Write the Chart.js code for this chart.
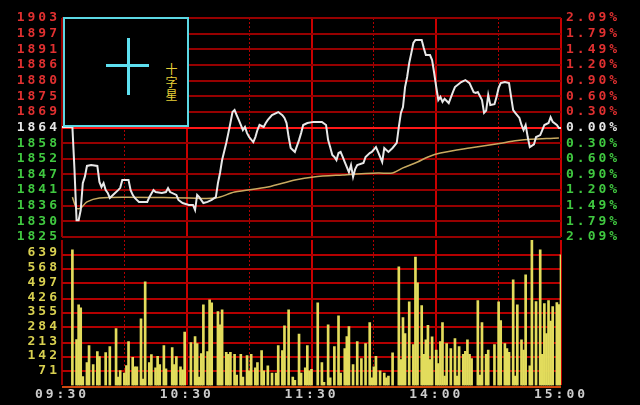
<!DOCTYPE html>
<html>
<head>
<meta charset="utf-8">
<script src="https://cdn.jsdelivr.net/npm/chart.js@4.4.1/dist/chart.umd.min.js"></script>
<style>
    html, body { margin: 0; padding: 0; background: #000; }
    #wrap { position: relative; width: 640px; height: 405px; background: #000; overflow: hidden; }
    #priceChart { position: absolute; left: 0; top: 0; }
    #volChart { position: absolute; left: 0; top: 240px; }
    #doji { position: absolute; left: 63px; top: 17px; width: 122px; height: 106px; border: 2px solid #5cd8e4; background: #000; }
    #doji .v { position: absolute; left: 62px; top: 19px; width: 3px; height: 57px; background: #5ee0f0; }
    #doji .h { position: absolute; left: 41px; top: 45px; width: 43px; height: 3px; background: #5ee0f0; }
    #doji .t { position: absolute; left: 98px; top: 44px; writing-mode: vertical-rl; font: 12px "Noto Sans CJK SC"; letter-spacing: 1px; color: #e8d038; }
</style>
</head>
<body>
<div id="wrap">
    <canvas id="priceChart" width="640" height="245"></canvas>
    <canvas id="volChart" width="640" height="165"></canvas>
    <div id="doji"><div class="v"></div><div class="h"></div><div class="t">十字星</div></div>
</div>
<script>
// ======================================
// Data
// ======================================

const timeTicks = [0, 60, 120, 180, 240];
const timeLabels = ["09:30", "10:30", "11:30", "14:00", "15:00"];
const halfHourTicks = [30, 90, 150, 210];

const priceMin = 1825;
const priceMax = 1903;
const priceLabels = ["1903", "1897", "1891", "1886", "1880", "1875", "1869", "1864",
    "1858", "1852", "1847", "1841", "1836", "1830", "1825"];
const pctLabels = ["2.09%", "1.79%", "1.49%", "1.20%", "0.90%", "0.60%", "0.30%", "0.00%",
    "0.30%", "0.60%", "0.90%", "1.20%", "1.49%", "1.79%", "2.09%"];

const volMax = 702;
const volTicks = [0, 71, 142, 213, 284, 355, 426, 497, 568, 639];

const priceTimes = [0, 5, 6, 7, 8, 9, 10, 11, 12, 14, 17, 18, 19, 20, 21, 22, 23, 25, 27, 28, 29, 32, 33, 34, 35, 37, 41, 42, 44, 45, 48, 50, 51, 52, 55, 56, 58, 61, 63, 64, 65, 66, 68, 70, 72, 74, 75, 76, 77, 79, 80, 81, 82, 83, 84, 85, 86, 87, 88, 89, 90, 92, 93, 94, 95, 97, 98, 99, 101, 104, 106, 107, 108, 109, 110, 111, 112, 114, 115, 116, 118, 121, 125, 127, 128, 129, 130, 131, 132, 133, 134, 135, 136, 137, 138, 139, 140, 141, 142, 145, 146, 148, 149, 151, 152, 153, 154, 155, 157, 159, 161, 162, 163, 164, 165, 166, 167, 168, 169, 170, 173, 174, 175, 177, 178, 179, 180, 181, 182, 183, 184, 186, 188, 189, 192, 194, 196, 198, 199, 200, 202, 203, 204, 205, 206, 208, 209, 210, 211, 213, 215, 216, 217, 218, 220, 221, 222, 223, 224, 225, 227, 228, 230, 231, 232, 234, 235, 236, 238, 239, 240];
const prices = [1864.2, 1864.2, 1849.0, 1831.0, 1831.0, 1834.6, 1844.2, 1846.5, 1850.3, 1850.6, 1850.3, 1844.6, 1842.8, 1844.2, 1841.7, 1840.7, 1838.9, 1840.3, 1841.7, 1842.5, 1845.3, 1845.3, 1841.7, 1840.0, 1838.9, 1837.5, 1837.5, 1839.2, 1841.7, 1841.0, 1840.7, 1841.0, 1842.4, 1841.0, 1840.0, 1838.2, 1837.1, 1836.4, 1836.4, 1834.6, 1840.0, 1839.2, 1837.1, 1837.5, 1838.2, 1839.2, 1844.2, 1847.8, 1852.4, 1858.5, 1862.0, 1865.6, 1869.5, 1870.2, 1868.4, 1866.7, 1864.9, 1863.1, 1864.2, 1862.0, 1860.6, 1858.8, 1860.6, 1863.1, 1864.9, 1864.2, 1865.6, 1866.7, 1868.4, 1869.5, 1868.4, 1867.4, 1865.6, 1860.6, 1856.7, 1856.0, 1855.3, 1859.5, 1862.0, 1864.9, 1865.6, 1866.0, 1866.0, 1864.9, 1859.5, 1857.0, 1854.2, 1853.5, 1852.4, 1854.9, 1855.3, 1853.5, 1851.7, 1849.9, 1848.1, 1850.6, 1846.4, 1849.2, 1850.6, 1851.4, 1853.5, 1854.9, 1855.3, 1857.0, 1855.3, 1853.5, 1851.7, 1856.7, 1855.3, 1856.7, 1858.5, 1864.2, 1869.2, 1871.3, 1878.4, 1882.0, 1887.0, 1890.5, 1894.1, 1895.2, 1895.2, 1892.3, 1889.8, 1889.8, 1888.0, 1883.4, 1878.4, 1873.8, 1874.9, 1873.1, 1874.2, 1872.7, 1876.6, 1878.4, 1880.2, 1880.9, 1879.8, 1876.6, 1876.3, 1876.6, 1873.8, 1869.2, 1870.0, 1875.6, 1872.0, 1872.3, 1874.9, 1878.1, 1879.8, 1880.2, 1879.8, 1874.9, 1870.2, 1869.2, 1867.4, 1864.9, 1863.1, 1864.9, 1860.6, 1857.0, 1858.0, 1860.6, 1861.3, 1863.1, 1864.9, 1865.6, 1867.7, 1866.0, 1864.9, 1863.8, 1863.8];

const avgTimes = [5, 7, 9, 12, 18, 31, 61, 74, 83, 99, 112, 121, 135, 152, 159, 164, 171, 176, 182, 196, 212, 220, 239];
const avgPrices = [1839.2, 1835.3, 1835.3, 1837.5, 1838.9, 1839.2, 1838.9, 1838.9, 1841.0, 1842.8, 1845.3, 1846.4, 1847.1, 1847.8, 1847.8, 1849.6, 1851.7, 1853.5, 1854.9, 1856.7, 1858.5, 1859.5, 1860.3];

const volTimes = [5, 7, 8, 9, 10, 12, 13, 15, 17, 18, 21, 23, 26, 27, 28, 30, 31, 32, 34, 35, 36, 38, 39, 40, 42, 43, 45, 46, 47, 49, 50, 53, 54, 55, 57, 58, 59, 62, 64, 65, 66, 67, 68, 70, 71, 72, 75, 76, 77, 79, 80, 81, 83, 84, 86, 87, 89, 90, 91, 93, 94, 96, 97, 99, 101, 103, 104, 106, 107, 109, 111, 112, 114, 115, 117, 118, 119, 120, 123, 125, 126, 128, 129, 131, 133, 134, 136, 137, 138, 140, 142, 144, 146, 148, 149, 150, 151, 153, 155, 156, 157, 159, 162, 163, 164, 165, 167, 169, 170, 171, 173, 174, 175, 176, 177, 178, 180, 181, 182, 183, 184, 185, 187, 189, 190, 191, 193, 194, 195, 196, 197, 200, 201, 202, 204, 205, 208, 210, 211, 213, 214, 215, 217, 218, 219, 221, 222, 223, 225, 226, 228, 230, 231, 232, 233, 234, 235, 236, 238, 239, 240];
const volValues = [655, 221, 389, 375, 43, 110, 192, 101, 163, 139, 159, 187, 274, 40, 72, 60, 96, 211, 135, 90, 90, 322, 30, 500, 110, 149, 85, 140, 100, 192, 80, 183, 100, 139, 90, 75, 258, 207, 236, 202, 40, 154, 389, 163, 413, 399, 356, 293, 365, 160, 150, 160, 150, 50, 150, 40, 144, 70, 150, 85, 110, 168, 70, 95, 60, 60, 192, 168, 288, 365, 40, 25, 248, 60, 85, 192, 70, 77, 399, 110, 15, 293, 37, 188, 336, 60, 178, 236, 284, 100, 212, 130, 202, 303, 37, 90, 140, 70, 60, 37, 45, 157, 572, 125, 327, 250, 404, 197, 620, 495, 385, 150, 220, 290, 125, 235, 170, 105, 212, 303, 45, 202, 178, 226, 45, 188, 150, 165, 220, 150, 130, 409, 50, 303, 150, 170, 197, 404, 313, 202, 178, 160, 510, 45, 389, 220, 170, 534, 95, 700, 405, 655, 150, 395, 250, 410, 310, 380, 400, 390, 630];

// ======================================
// Styles
// ======================================

const gridRed = "#960000";
const volGridRed = "#b40000";
const dotRed = "#b00000";
const solidRed = "#c80000";
const zeroRed = "#ff1818";
const upRed = "#e03030";
const downGreen = "#40c840";
const flatWhite = "#e6e6e6";
const volYellow = "#d8d050";

const labelFont = { family: "DejaVu Sans Mono", size: 13, weight: "bold" };

const spacing = {
    id: "spacing",
    beforeDraw(chart) {
        chart.ctx.letterSpacing = "3px";
    }
};

// horizontal volume grid behind the bars; rows snapped to even pixels
// so the thin red lines keep their colour in the screenshot
const volGrid = {
    id: "volGrid",
    beforeDatasetsDraw(chart) {
        const { ctx, chartArea, scales } = chart;
        ctx.save();
        ctx.setLineDash([]);
        ctx.lineWidth = 2;
        volTicks.forEach(v => {
            const y = 2 * Math.round(scales.y.getPixelForValue(v) / 2) + 1;
            ctx.strokeStyle = v === 0 ? "#d04810" : volGridRed;
            ctx.beginPath();
            ctx.moveTo(chartArea.left, y);
            ctx.lineTo(chartArea.right, y);
            ctx.stroke();
        });
        ctx.restore();
    }
};

function fixWidth(w) {
    return scale => {
        scale.width = w;
        scale.paddingTop = 0;
        scale.paddingBottom = 0;
    };
}

function labelColor(i) {
    // ticks run bottom to top, index 7 is the previous close
    if (i === 7) return flatWhite;
    return i > 7 ? upRed : downGreen;
}

const priceStep = (priceMax - priceMin) / (priceLabels.length - 1);

function hourAxis(showLabels) {
    return {
        type: "linear",
        min: 0,
        max: 240,
        offset: false,
        afterBuildTicks: s => { s.ticks = timeTicks.map(v => ({ value: v })); },
        ticks: {
            display: showLabels,
            autoSkip: false,
            maxRotation: 0,
            padding: 1,
            color: "#cccccc",
            font: labelFont,
            callback: (v, i) => timeLabels[i]
        },
        grid: {
            offset: false,
            color: ctx => ctx.index === 0 ? gridRed : solidRed,
            lineWidth: 2,
            drawTicks: false
        },
        border: { display: false }
    };
}

function halfHourAxis() {
    return {
        type: "linear",
        position: "bottom",
        min: 0,
        max: 240,
        offset: false,
        afterBuildTicks: s => { s.ticks = halfHourTicks.map(v => ({ value: v })); },
        ticks: { display: false },
        grid: { offset: false, color: dotRed, lineWidth: 1, drawTicks: false },
        border: { display: false, dash: [2, 2] }
    };
}

// ======================================
// Price Chart
// ======================================

new Chart(document.getElementById("priceChart"), {
    type: "line",
    data: {
        datasets: [{
            data: priceTimes.map((t, i) => ({ x: t, y: prices[i] })),
            borderColor: "#e8e8e8",
            borderWidth: 2,
            pointRadius: 0,
            tension: 0
        }, {
            data: avgTimes.map((t, i) => ({ x: t, y: avgPrices[i] })),
            borderColor: "#c8aa60",
            borderWidth: 1.5,
            pointRadius: 0,
            tension: 0.3
        }]
    },
    options: {
        responsive: false,
        animation: false,
        layout: { padding: { top: 18, bottom: 8, left: 0, right: 0 } },
        plugins: { legend: { display: false }, tooltip: { enabled: false } },
        scales: {
            x: hourAxis(false),
            x2: halfHourAxis(),
            y: {
                position: "left",
                min: priceMin,
                max: priceMax,
                afterBuildTicks: s => { s.ticks = priceLabels.map((_, i) => ({ value: priceMin + i * priceStep })); },
                afterFit: fixWidth(62),
                ticks: {
                    autoSkip: false,
                    padding: 2,
                    font: labelFont,
                    color: ctx => labelColor(ctx.index),
                    callback: (v, i) => priceLabels[priceLabels.length - 1 - i]
                },
                grid: {
                    color: ctx => ctx.index === 7 ? zeroRed : gridRed,
                    lineWidth: 2,
                    drawTicks: false
                },
                border: { display: false }
            },
            y2: {
                position: "right",
                min: priceMin,
                max: priceMax,
                afterBuildTicks: s => { s.ticks = pctLabels.map((_, i) => ({ value: priceMin + i * priceStep })); },
                afterFit: fixWidth(79),
                ticks: {
                    autoSkip: false,
                    padding: 5,
                    font: labelFont,
                    color: ctx => labelColor(ctx.index),
                    callback: (v, i) => pctLabels[pctLabels.length - 1 - i]
                },
                grid: { drawOnChartArea: false, drawTicks: false },
                border: { display: false }
            }
        }
    },
    plugins: [spacing]
});

// ======================================
// Volume Chart
// ======================================

new Chart(document.getElementById("volChart"), {
    type: "bar",
    data: {
        datasets: [{
            data: volTimes.map((t, i) => ({ x: t, y: volValues[i] })),
            backgroundColor: "#e2dc5c",
            borderWidth: 0,
            barThickness: 2
        }]
    },
    options: {
        responsive: false,
        animation: false,
        layout: { padding: { top: 0, bottom: 2, left: 0, right: 79 } },
        plugins: { legend: { display: false }, tooltip: { enabled: false } },
        scales: {
            x: hourAxis(true),
            x2: halfHourAxis(),
            y: {
                type: "linear",
                position: "left",
                min: 0,
                max: volMax,
                afterBuildTicks: s => { s.ticks = volTicks.map(v => ({ value: v })); },
                afterFit: fixWidth(62),
                ticks: {
                    autoSkip: false,
                    padding: 2,
                    font: labelFont,
                    color: volYellow,
                    callback: v => v === 0 ? "" : String(v)
                },
                grid: { display: false, drawTicks: false },
                border: { display: false }
            }
        }
    },
    plugins: [spacing, volGrid]
});
</script>
</body>
</html>
